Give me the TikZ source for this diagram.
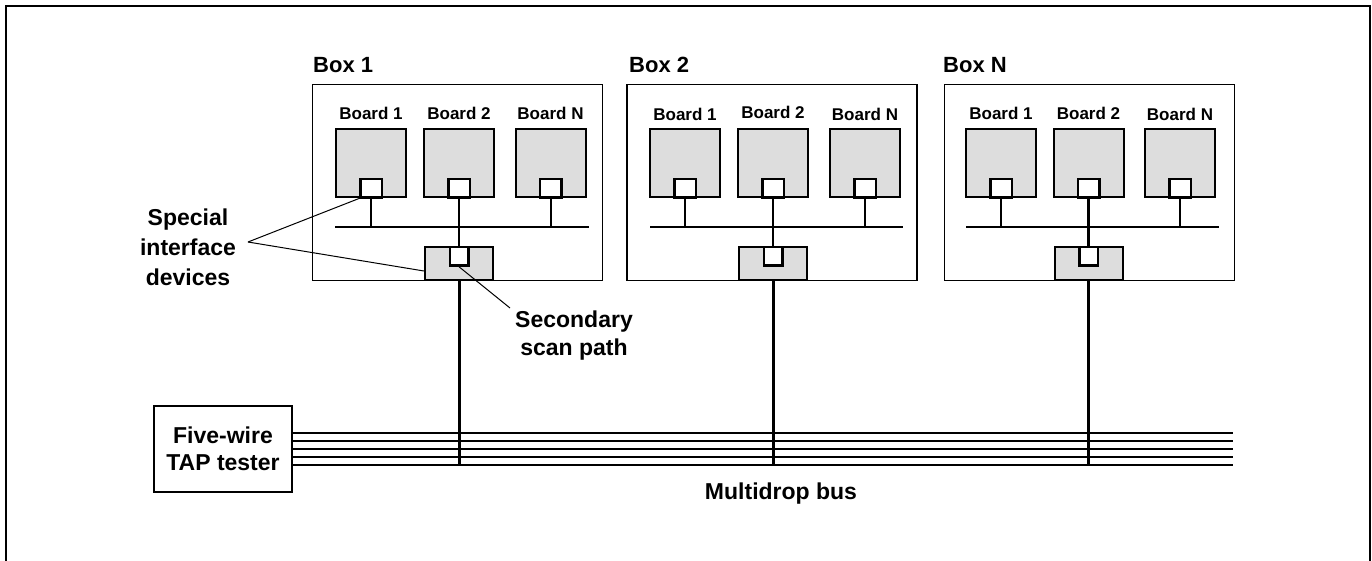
\documentclass[tikz,border=0pt]{standalone}
\usepackage{fontspec}
\setmainfont{Liberation Sans}
\definecolor{boardgray}{HTML}{DDDDDD}
\begin{document}
\begin{tikzpicture}[x=1pt,y=-1pt,line join=miter,
  enclosure/.style={draw,line width=1.2pt,minimum width=290pt,minimum height=196pt,inner sep=0pt},
  board/.style={draw,line width=2pt,fill=boardgray,minimum width=70pt,minimum height=68pt,inner sep=0pt},
  chip/.style={draw,line width=2.5pt,fill=white,minimum width=21.5pt,minimum height=18.5pt,inner sep=0pt},
  secbox/.style={draw,line width=2pt,fill=boardgray,minimum width=68pt,minimum height=33pt,inner sep=0pt},
  boxlabel/.style={font=\fontsize{22}{26}\selectfont\bfseries,inner sep=0pt,anchor=west},
  boardlabel/.style={font=\fontsize{17}{20}\selectfont\bfseries,inner sep=0pt},
  note/.style={font=\fontsize{23}{28}\selectfont\bfseries,inner sep=0pt,align=center},
  stub/.style={line width=2pt},
  localbus/.style={line width=2.6pt},
  drop/.style={line width=3pt},
  wire/.style={line width=1.3pt},
  pointer/.style={line width=1pt}]
  \useasboundingbox (0,0) rectangle (1372,560);
  \draw[line width=2pt] (6,6) rectangle (1370,572);
  % Box 1
  \node[enclosure] (box1) at (457.5,182.5) {};
  \node[boxlabel] (lbox1) at (313,65) {Box 1};
  \node[board] (b11) at (371,163) {};
  \node[board] (b12) at (459,163) {};
  \node[board] (b1n) at (550.5,163) {};
  \node[boardlabel] (lb11) at (371,113) {Board 1};
  \node[boardlabel] (lb12) at (459,113) {Board 2};
  \node[boardlabel] (lb1n) at (550.5,113) {Board N};
  \node[chip] (s11) at (371,188) {};
  \node[chip] (s12) at (459,188) {};
  \node[chip] (s1n) at (550.5,188) {};
  \node[secbox] (g1) at (459,263.5) {};
  \node[chip,minimum width=18.5pt] (c1) at (459,256.25) {};
  \coordinate (bus1l) at (335,227);
  \coordinate (bus1r) at (589,227);
  \draw[localbus] (bus1l) -- (bus1r);
  \draw[stub] (s11.south) -- (s11.south |- bus1l);
  \draw[stub] (s1n.south) -- (s1n.south |- bus1l);
  \draw[localbus] (s12.south) -- (c1.north);
  % Box 2
  \node[enclosure] (box2) at (772,182.5) {};
  \node[boxlabel] (lbox2) at (629,65) {Box 2};
  \node[board] (b21) at (685,163) {};
  \node[board] (b22) at (773,163) {};
  \node[board] (b2n) at (865,163) {};
  \node[boardlabel] (lb21) at (685,114) {Board 1};
  \node[boardlabel] (lb22) at (773,112) {Board 2};
  \node[boardlabel] (lb2n) at (865,114) {Board N};
  \node[chip] (s21) at (685,188) {};
  \node[chip] (s22) at (773,188) {};
  \node[chip] (s2n) at (865,188) {};
  \node[secbox] (g2) at (773,263.5) {};
  \node[chip,minimum width=18.5pt] (c2) at (773,256.25) {};
  \coordinate (bus2l) at (650,227);
  \coordinate (bus2r) at (903,227);
  \draw[localbus] (bus2l) -- (bus2r);
  \draw[stub] (s21.south) -- (s21.south |- bus2l);
  \draw[stub] (s2n.south) -- (s2n.south |- bus2l);
  \draw[localbus] (s22.south) -- (c2.north);
  % Box N
  \node[enclosure] (boxn) at (1089.5,182.5) {};
  \node[boxlabel] (lboxn) at (943,65) {Box N};
  \node[board] (bn1) at (1001,163) {};
  \node[board] (bn2) at (1088.5,163) {};
  \node[board] (bnn) at (1180,163) {};
  \node[boardlabel] (lbn1) at (1001,113) {Board 1};
  \node[boardlabel] (lbn2) at (1088.5,113) {Board 2};
  \node[boardlabel] (lbnn) at (1180,114) {Board N};
  \node[chip] (sn1) at (1001,188) {};
  \node[chip] (sn2) at (1088.5,188) {};
  \node[chip] (snn) at (1180,188) {};
  \node[secbox] (gn) at (1088.5,263.5) {};
  \node[chip,minimum width=18.5pt] (cn) at (1088.5,256.25) {};
  \coordinate (busnl) at (966,227);
  \coordinate (busnr) at (1219,227);
  \draw[localbus] (busnl) -- (busnr);
  \draw[stub] (sn1.south) -- (sn1.south |- busnl);
  \draw[stub] (snn.south) -- (snn.south |- busnl);
  \draw[localbus] (sn2.south) -- (cn.north);
  % tester and multidrop bus
  \node[draw,line width=2pt,minimum width=138pt,minimum height=86pt,note,font=\fontsize{23}{27}\selectfont\bfseries] (tester) at (223,449) {Five-wire\\TAP tester};
  \coordinate (busend) at (1233,449);
  \coordinate (mbot) at (1233,465);
  \draw[wire] ([yshift=16pt]tester.east) -- ([yshift=16pt]busend);
  \draw[wire] ([yshift=8pt]tester.east) -- ([yshift=8pt]busend);
  \draw[wire] (tester.east) -- (busend);
  \draw[wire] ([yshift=-8pt]tester.east) -- ([yshift=-8pt]busend);
  \draw[wire] ([yshift=-16pt]tester.east) -- (mbot);
  \draw[drop] (g1.south) -- (g1.south |- mbot);
  \draw[drop] (g2.south) -- (g2.south |- mbot);
  \draw[drop] (gn.south) -- (gn.south |- mbot);
  \node[note] (mbus) at (781,494) {Multidrop bus};
  % callouts
  \node[note,font=\fontsize{23}{30}\selectfont\bfseries] (sidnote) at (188,247) {Special\\interface\\devices};
  \coordinate (sidtip) at (248,242);
  \draw[pointer] (sidtip) -- (s11.south west);
  \draw[pointer] (sidtip) -- ([yshift=10pt]g1.south west);
  \node[note] (secnote) at (574,336) {Secondary\\scan path};
  \coordinate (sectip) at (510,308);
  \draw[pointer] (c1.south) -- (sectip);
\end{tikzpicture}
\end{document}
